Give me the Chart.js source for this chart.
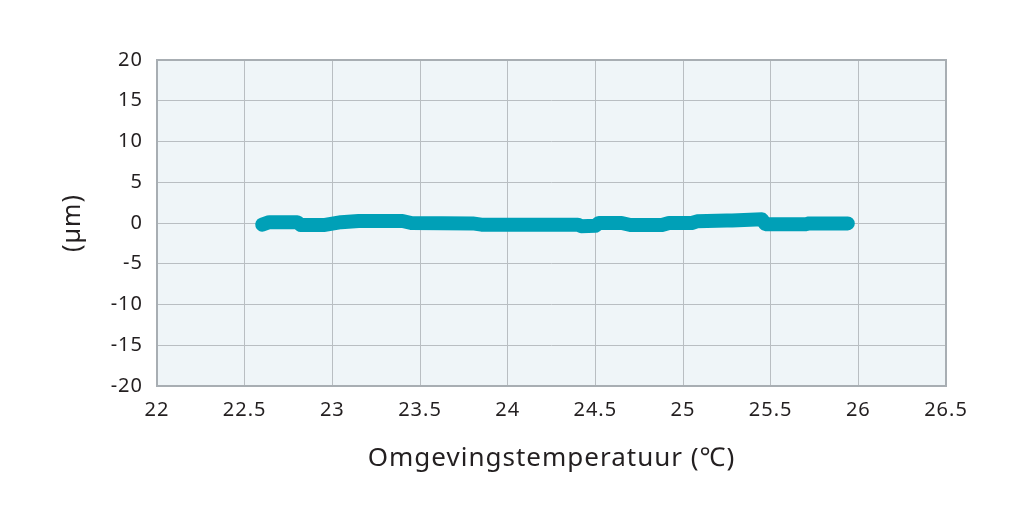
<!DOCTYPE html>
<html>
<head>
<meta charset="utf-8">
<script src="https://cdn.jsdelivr.net/npm/chart.js@4/dist/chart.umd.min.js"></script>
<style>
  html, body { margin: 0; padding: 0; background: #ffffff; }
  #wrap { width: 1026px; height: 514px; }
</style>
</head>
<body>
<div id="wrap"><canvas id="c" width="1026" height="514"></canvas></div>
<script>
// temperature (°C) and displacement (µm)
const temps = [22.60, 22.64, 22.80, 22.82, 22.95, 23.05, 23.15, 23.40, 23.45, 23.80, 23.85, 24.40, 24.42, 24.50, 24.52, 24.65, 24.70, 24.88, 24.92, 25.05, 25.08, 25.25, 25.28, 25.45, 25.47, 25.70, 25.72, 25.94];
const disp = [-0.2, 0.1, 0.1, -0.25, -0.25, 0.1, 0.25, 0.25, 0.0, -0.05, -0.2, -0.2, -0.4, -0.35, 0.0, 0.0, -0.25, -0.25, 0.0, 0.0, 0.2, 0.3, 0.3, 0.45, -0.15, -0.15, -0.05, -0.05];

const xMin = 22, xMax = 26.5, xStep = 0.5;
const yMin = -20, yMax = 20, yStep = 5;
const xTitle = "Omgevingstemperatuur (℃)";
const yTitle = "(µm)";

const points = temps.map((t, i) => ({x: t, y: disp[i]}));
const textColor = "#231f20";
const fontFamily = "'Noto Sans', 'DejaVu Sans', sans-serif";

const spacing = {
    id: "spacing",
    beforeLayout(chart) { chart.ctx.letterSpacing = "1px"; },
    beforeDraw(chart) { chart.ctx.letterSpacing = "1px"; }
};

const plotBg = {
    id: "plotBg",
    beforeDraw(chart) {
        const {ctx, chartArea: a} = chart;
        ctx.save();
        ctx.fillStyle = "#eff5f8";
        ctx.fillRect(a.left, a.top, a.right - a.left, a.bottom - a.top);
        ctx.restore();
    },
    afterDatasetsDraw(chart) {
        const {ctx, chartArea: a} = chart;
        ctx.save();
        ctx.strokeStyle = "#a8aeb3";
        ctx.lineWidth = 2;
        ctx.strokeRect(a.left, a.top, a.right - a.left, a.bottom - a.top);
        ctx.restore();
    }
};

new Chart(document.getElementById("c").getContext("2d"), {
    type: "scatter",
    data: {
        datasets: [{
            data: points,
            showLine: true,
            borderColor: "#00a0b7",
            borderWidth: 14,
            borderCapStyle: "round",
            borderJoinStyle: "round",
            pointRadius: 0,
            tension: 0
        }]
    },
    options: {
        responsive: false,
        animation: false,
        layout: {padding: {top: 60, right: 80, bottom: 0, left: 0}},
        plugins: {legend: {display: false}, tooltip: {enabled: false}},
        scales: {
            x: {
                type: "linear",
                min: xMin, max: xMax,
                afterFit(s) { s.height = 128; },
                ticks: {stepSize: xStep, color: textColor, padding: 12, maxRotation: 0,
                        font: {family: fontFamily, size: 20},
                        callback: v => String(v)},
                grid: {color: "#b9bec2", lineWidth: 1, drawTicks: false},
                border: {display: false},
                title: {display: true, text: xTitle, color: textColor,
                        font: {family: fontFamily, size: 26}, padding: {top: 0, bottom: 40}}
            },
            y: {
                min: yMin, max: yMax,
                afterFit(s) { s.width = 157; },
                ticks: {stepSize: yStep, color: textColor, padding: 14,
                        font: {family: fontFamily, size: 20}},
                grid: {color: "#b9bec2", lineWidth: 1, drawTicks: false},
                border: {display: false},
                title: {display: true, text: yTitle, color: textColor,
                        font: {family: fontFamily, size: 25}, padding: {top: 58, bottom: 0}}
            }
        }
    },
    plugins: [spacing, plotBg]
});
</script>
</body>
</html>
